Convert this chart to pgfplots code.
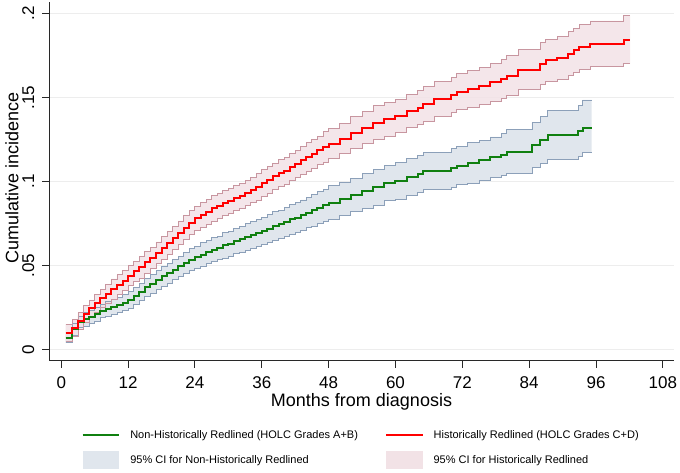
\documentclass[border=0pt]{standalone}
\usepackage{pgfplots}
\pgfplotsset{compat=1.18}
\usepackage{pgfplotstable}
\usepgfplotslibrary{fillbetween}
\usepackage{fontspec}
\setmainfont{Liberation Sans}

\definecolor{redline}{RGB}{255,0,0}
\definecolor{greenline}{RGB}{16,128,16}
\definecolor{redCIline}{RGB}{200,150,160}
\definecolor{redCIfill}{RGB}{242,226,230}
\definecolor{blueCIline}{RGB}{140,160,185}
\definecolor{blueCIfill}{RGB}{224,230,237}
\definecolor{axisgray}{RGB}{40,40,40}

% Non-Historically Redlined (HOLC A+B)
\pgfplotstableread{
t est lo hi
0.8 0.0070 0.0040 0.0100
2 0.0120 0.0085 0.0155
3 0.0165 0.0130 0.0200
4 0.0180 0.0140 0.0220
5 0.0195 0.0155 0.0235
6 0.0210 0.0170 0.0250
7 0.0230 0.0190 0.0270
8 0.0240 0.0195 0.0285
9 0.0255 0.0210 0.0300
10 0.0265 0.0220 0.0310
11 0.0280 0.0230 0.0330
12 0.0295 0.0245 0.0345
13 0.0320 0.0270 0.0370
14 0.0345 0.0295 0.0395
15 0.0370 0.0315 0.0425
16 0.0390 0.0335 0.0445
17 0.0415 0.0360 0.0470
18 0.0435 0.0375 0.0495
19 0.0455 0.0395 0.0515
20 0.0475 0.0415 0.0535
21 0.0495 0.0435 0.0555
22 0.0515 0.0450 0.0580
23 0.0535 0.0470 0.0600
24 0.0550 0.0485 0.0615
25 0.0565 0.0495 0.0635
26 0.0580 0.0510 0.0650
27 0.0595 0.0525 0.0665
28 0.0605 0.0535 0.0675
29 0.0620 0.0545 0.0695
30 0.0630 0.0555 0.0705
31 0.0645 0.0570 0.0720
32 0.0655 0.0580 0.0730
33 0.0670 0.0590 0.0750
34 0.0680 0.0600 0.0760
35 0.0695 0.0615 0.0775
36 0.0705 0.0625 0.0785
37 0.0720 0.0635 0.0805
38 0.0735 0.0650 0.0820
39 0.0745 0.0660 0.0830
40 0.0760 0.0675 0.0845
41 0.0775 0.0685 0.0865
42 0.0785 0.0695 0.0875
43 0.0800 0.0710 0.0890
44 0.0815 0.0725 0.0905
45 0.0830 0.0735 0.0925
46 0.0845 0.0750 0.0940
47 0.0860 0.0765 0.0955
48 0.0875 0.0775 0.0975
50 0.0895 0.0795 0.0995
52 0.0920 0.0820 0.1020
54 0.0945 0.0840 0.1050
56 0.0965 0.0860 0.1070
58 0.0990 0.0885 0.1095
60 0.1005 0.0895 0.1115
62 0.1025 0.0915 0.1135
64 0.1045 0.0935 0.1155
65 0.1065 0.0955 0.1175
70 0.1080 0.0965 0.1195
71 0.1095 0.0980 0.1210
73 0.1110 0.0990 0.1230
75 0.1125 0.1005 0.1245
77 0.1145 0.1025 0.1265
79 0.1160 0.1035 0.1285
80 0.1177 0.1047 0.1307
84.5 0.1217 0.1082 0.1352
86 0.1245 0.1105 0.1385
87.3 0.1277 0.1132 0.1422
92.8 0.1300 0.1150 0.1450
93.6 0.1320 0.1170 0.1485
95.2 0.1320 0.1170 0.1485
}\tabNonRed

% Historically Redlined (HOLC C+D)
\pgfplotstableread{
t est lo hi
0.8 0.0100 0.0050 0.0150
2 0.0130 0.0080 0.0180
3 0.0170 0.0120 0.0220
4 0.0210 0.0160 0.0260
5 0.0245 0.0195 0.0295
6 0.0275 0.0220 0.0330
7 0.0305 0.0250 0.0360
8 0.0330 0.0275 0.0385
9 0.0360 0.0300 0.0420
10 0.0385 0.0325 0.0445
11 0.0410 0.0350 0.0470
12 0.0440 0.0380 0.0500
13 0.0465 0.0405 0.0525
14 0.0490 0.0425 0.0555
15 0.0520 0.0455 0.0585
16 0.0545 0.0480 0.0610
17 0.0575 0.0510 0.0640
18 0.0605 0.0535 0.0675
19 0.0635 0.0565 0.0705
20 0.0665 0.0595 0.0735
21 0.0695 0.0625 0.0765
22 0.0725 0.0655 0.0795
23 0.0755 0.0685 0.0825
24 0.0780 0.0710 0.0850
25 0.0800 0.0725 0.0875
26 0.0820 0.0745 0.0895
27 0.0840 0.0765 0.0915
28 0.0855 0.0780 0.0930
29 0.0870 0.0795 0.0945
30 0.0885 0.0810 0.0960
31 0.0900 0.0825 0.0975
32 0.0915 0.0840 0.0990
33 0.0930 0.0855 0.1005
34 0.0950 0.0875 0.1025
35 0.0970 0.0890 0.1050
36 0.0990 0.0910 0.1070
37 0.1010 0.0930 0.1090
38 0.1030 0.0950 0.1110
39 0.1050 0.0970 0.1130
40 0.1065 0.0985 0.1145
41 0.1085 0.1005 0.1165
42 0.1105 0.1025 0.1185
43 0.1125 0.1040 0.1210
44 0.1145 0.1060 0.1230
45 0.1165 0.1080 0.1250
46 0.1185 0.1100 0.1270
47 0.1205 0.1115 0.1295
48 0.1225 0.1135 0.1315
50 0.1255 0.1165 0.1345
52 0.1290 0.1195 0.1385
54 0.1320 0.1225 0.1415
56 0.1350 0.1250 0.1450
58 0.1370 0.1270 0.1470
60 0.1390 0.1290 0.1490
62 0.1420 0.1320 0.1520
64 0.1440 0.1340 0.1540
65 0.1460 0.1355 0.1565
67 0.1490 0.1385 0.1595
70 0.1515 0.1410 0.1620
71 0.1535 0.1430 0.1640
73 0.1550 0.1440 0.1660
75 0.1570 0.1460 0.1680
77 0.1590 0.1475 0.1705
79 0.1610 0.1495 0.1725
80 0.1630 0.1510 0.1750
82 0.1665 0.1545 0.1785
86 0.1700 0.1575 0.1825
87 0.1720 0.1595 0.1845
89 0.1735 0.1605 0.1865
91 0.1760 0.1630 0.1890
92 0.1780 0.1650 0.1910
93 0.1800 0.1665 0.1935
95 0.1817 0.1683 0.1955
101 0.1842 0.1700 0.1987
102.1 0.1842 0.1700 0.1987
}\tabRed

\begin{document}
\begin{tikzpicture}
\path (0pt,0pt) rectangle (680pt,473pt);
\begin{axis}[
  at={(49pt,112pt)}, anchor=south west,
  scale only axis,
  width=625pt, height=359pt,
  xmin=-2.2, xmax=110,
  ymin=-0.0068, ymax=0.2068,
  axis lines*=left,
  axis line style={-, line width=1pt, axisgray},
  xtick={0,12,24,36,48,60,72,84,96,108},
  ytick={0,0.05,0.1,0.15,0.2},
  yticklabels={0,.05,.1,.15,.2},
  tick align=outside,
  major tick length=6.6pt,
  tick style={line width=0.9pt, axisgray},
  ymajorgrids,
  grid style={line width=0.8pt, color=black!7},
  /pgf/number format/assume math mode=true,
  ticklabel style={font=\fontsize{17}{17}\selectfont, inner sep=0pt},
  xticklabel style={anchor=north, yshift=-9pt},
  yticklabel style={xshift=-8pt, rotate=90, anchor=south},
  xlabel={Months from diagnosis},
  ylabel={Cumulative incidence},
  xlabel style={font=\fontsize{18}{18}\selectfont, at={(axis description cs:0.5,0)}, anchor=base, yshift=-45.7pt},
  ylabel style={font=\fontsize{18}{18}\selectfont, at={(axis description cs:-0.0491,0.511)}, anchor=base},
  legend columns=2,
  legend cell align=left,
  legend style={draw=none, fill=none, inner sep=0pt, outer sep=0pt,
    at={(axis description cs:0,0)}, anchor=north west, xshift=32.7pt, yshift=-65.5pt,
    font=\fontsize{11}{13}\selectfont,
    nodes={inner sep=0pt},
    row sep=8pt,
    /tikz/every odd column/.append style={column sep=10pt},
    /tikz/every even column/.append style={column sep=27pt}},
]
% invisible named boundaries
\addplot[const plot, draw=none, name path=ghi, forget plot] table[x=t, y=hi] {\tabNonRed};
\addplot[const plot, draw=none, name path=glo, forget plot] table[x=t, y=lo] {\tabNonRed};
\addplot[const plot, draw=none, name path=rhi, forget plot] table[x=t, y=hi] {\tabRed};
\addplot[const plot, draw=none, name path=rlo, forget plot] table[x=t, y=lo] {\tabRed};
% CI areas
\addplot[blueCIfill, forget plot] fill between[of=ghi and glo];
\addplot[const plot, blueCIline, line width=0.9pt, forget plot] table[x=t, y=hi] {\tabNonRed};
\addplot[const plot, blueCIline, line width=0.9pt, forget plot] table[x=t, y=lo] {\tabNonRed};
\addplot[redCIfill, fill opacity=0.85, forget plot] fill between[of=rhi and rlo];
\addplot[const plot, redCIline, line width=0.9pt, forget plot] table[x=t, y=hi] {\tabRed};
\addplot[const plot, redCIline, line width=0.9pt, forget plot] table[x=t, y=lo] {\tabRed};
% estimates
\addplot[const plot, greenline, line width=2pt, forget plot] table[x=t, y=est] {\tabNonRed};
\addplot[const plot, redline, line width=2pt, forget plot] table[x=t, y=est] {\tabRed};
% legend
\addlegendimage{legend image code/.code={\path[draw=none, fill=none] (0pt,-8.5pt) rectangle (36.6pt,8.5pt); \draw[greenline, line width=2pt] (0pt,0pt) -- (36.6pt,0pt);}}
\addlegendentry{Non-Historically Redlined (HOLC Grades A+B)}
\addlegendimage{legend image code/.code={\path[draw=none, fill=none] (0pt,-8.5pt) rectangle (36.6pt,8.5pt); \draw[redline, line width=2pt] (0pt,0pt) -- (36.6pt,0pt);}}
\addlegendentry{Historically Redlined (HOLC Grades C+D)}
\addlegendimage{legend image code/.code={\fill[blueCIfill, draw=none] (0pt,-9pt) rectangle (36.6pt,9pt);}}
\addlegendentry{95\% CI for Non-Historically Redlined}
\addlegendimage{legend image code/.code={\fill[redCIfill, draw=none] (0pt,-9pt) rectangle (36.6pt,9pt);}}
\addlegendentry{95\% CI for Historically Redlined}
\end{axis}
\end{tikzpicture}
\end{document}
